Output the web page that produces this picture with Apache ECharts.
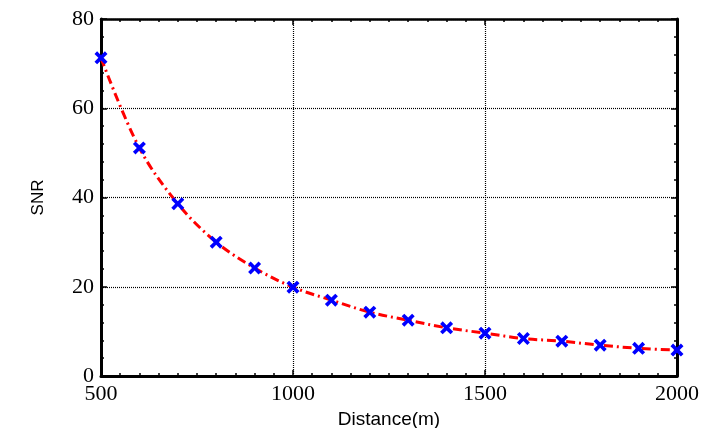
<!DOCTYPE html>
<html><head><meta charset="utf-8">
<script src="https://cdn.jsdelivr.net/npm/echarts@6/dist/echarts.min.js"></script>
<style>html,body{margin:0;padding:0;background:#fff}#c{width:703px;height:428px}</style>
</head><body><div id="c"></div>
<script>
const distances = [500,600,700,800,900,1000,1100,1200,1300,1400,1500,1600,1700,1800,1900,2000];
const snr = [71.3,51.1,38.6,30.0,24.2,19.9,17.0,14.3,12.5,10.8,9.6,8.4,7.8,6.9,6.2,5.8];
const xTicks = {min:500,max:2000,step:500};
const yTicks = {min:0,max:80,step:20};

const chart = echarts.init(document.getElementById('c'));
const tickFont = {fontFamily:'Liberation Serif, Times New Roman, serif', fontSize:22, color:'#000'};
function ax(pos, showLabel, opts){
  return Object.assign({
    type:'value', position:pos,
    axisLine:{show:true,onZero:false,lineStyle:{color:'#000',width:3}},
    axisTick:{show:true,inside:true,length:6,lineStyle:{color:'#000',width:1.5}},
    minorTick:{show:true,length:3,lineStyle:{color:'#000',width:1.5}},
    axisLabel:Object.assign({show:showLabel},tickFont),
    splitLine:{show:false}
  }, opts);
}
chart.setOption({
  animation:false,
  grid:{left:101,right:26,top:19,bottom:52,show:false,containLabel:false,outerBoundsMode:'none'},
  xAxis:[
    ax('bottom',true,{min:xTicks.min,max:xTicks.max,interval:xTicks.step,
      minorTick:{show:true,splitNumber:10,length:3,lineStyle:{color:'#000',width:1.5}},
      axisLabel:Object.assign({show:true,margin:7,formatter:v=>String(v)},tickFont),
      splitLine:{show:true,lineStyle:{color:'#000',type:[1,1],width:1.2}},
      name:'Distance(m)',nameLocation:'middle',nameGap:34,
      nameTextStyle:{fontFamily:'Liberation Sans, Arial, sans-serif',fontSize:19,color:'#000'}}),
    ax('top',false,{min:xTicks.min,max:xTicks.max,interval:xTicks.step,
      minorTick:{show:true,splitNumber:10,length:3,lineStyle:{color:'#000',width:1.5}},
      axisLine:{show:true,onZero:false,lineStyle:{color:'#000',width:2.5}}})
  ],
  yAxis:[
    ax('left',true,{min:yTicks.min,max:yTicks.max,interval:yTicks.step,
      minorTick:{show:true,splitNumber:5,length:3,lineStyle:{color:'#000',width:1.5}},
      axisLabel:Object.assign({show:true,margin:7,formatter:v=>String(v)},tickFont),
      splitLine:{show:true,lineStyle:{color:'#000',type:[1,1],width:1.2}},
      name:'SNR',nameLocation:'middle',nameGap:54,nameRotate:90,
      nameTextStyle:{fontFamily:'Liberation Sans, Arial, sans-serif',fontSize:17,color:'#000'}}),
    ax('right',false,{min:yTicks.min,max:yTicks.max,interval:yTicks.step,
      minorTick:{show:true,splitNumber:5,length:3,lineStyle:{color:'#000',width:1.5}}})
  ],
  series:[{
    type:'line', xAxisIndex:0, yAxisIndex:0,
    data: distances.map((d,i)=>[d,snr[i]]),
    smooth:0.35,
    lineStyle:{color:'#ff0000',width:3,type:[9,4,2,4]},
    symbol:'path://M0,4 L4,0 L10,6 L16,0 L20,4 L14,10 L20,16 L16,20 L10,14 L4,20 L0,16 L6,10 Z',
    symbolSize:13,
    itemStyle:{color:'#0000ff'},
    clip:false
  }]
});
</script></body></html>
